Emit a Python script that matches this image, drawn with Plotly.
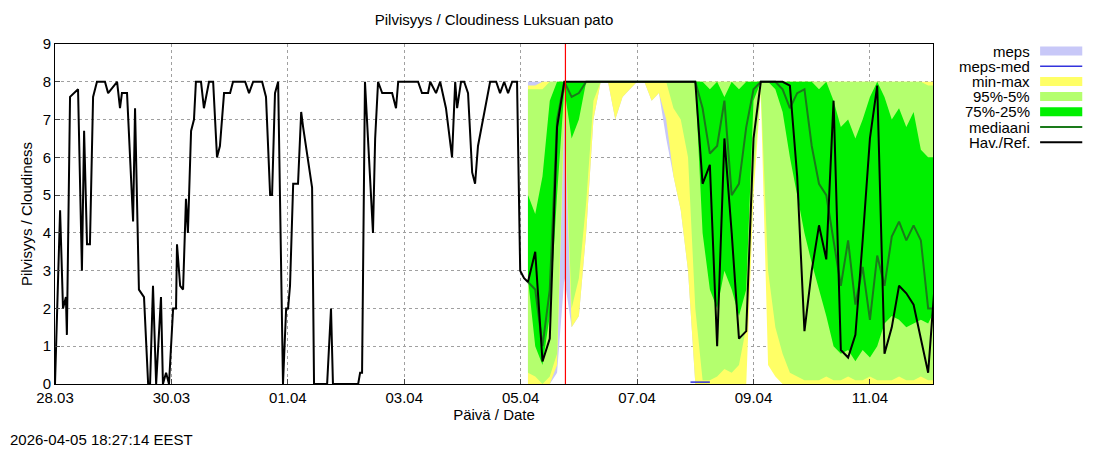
import pandas as pd
import plotly.graph_objects as go

base = pd.Timestamp("2026-03-28 00:00")

# Havainnot (tunnit alusta 28.03 00:00)
obs_hours = [0, 2.1, 3.3, 4.5, 4.9, 6.2, 9.5, 11.1, 12, 13.2, 14.4, 15.7, 17.3, 20.6, 21.9, 25.6, 26.8, 27.6,
             29.7, 32.2, 33, 34.6, 36.7, 38.4, 39.2, 40.4, 41.7, 43.7, 44.5, 45.8, 47, 48.7, 49.9, 50.3, 51.6,
             52.8, 54, 54.8, 56.1, 57.3, 58.1, 60.2, 61.4, 63.5, 65.2, 66.8, 68, 69.7, 72.2, 73.4, 78.4, 80,
             81.7, 85.4, 87, 88.7, 89.5, 90.7, 92, 94, 95.3, 96.1, 96.9, 98.2, 100.2, 101.5, 102.3, 104.3, 106,
             106.8, 112.2, 113.8, 114.6, 125, 125.8, 126.6, 127.8, 131.1, 132, 133.2, 134.9, 139, 140.6, 141.5,
             149.7, 151.3, 153.8, 154.7, 157.1, 158.8, 161.2, 163.7, 165, 165.8, 167.4, 168.7, 170.3, 172,
             173.2, 174.4, 177.3, 179.4, 181.9, 183.5, 185.2, 186.8, 188.5, 190.5, 191.8, 193.4]
obs_vals = [0, 4.6, 2, 2.3, 1.3, 7.6, 7.8, 3, 6.7, 3.7, 3.7, 7.6, 8, 8, 7.7, 8, 7.3, 7.7,
            7.7, 4.3, 7.3, 2.5, 2.3, 0, 0, 2.6, 0, 2.3, 0, 0.3, 0, 2, 2, 3.7, 2.6,
            2.5, 4.9, 4, 6.7, 7, 8, 8, 7.3, 8, 8, 6, 6.3, 7.7, 7.7, 8, 8, 7.7,
            8, 8, 7.6, 5, 5, 7.7, 8, 0, 2, 2, 2.6, 5.3, 5.3, 7.2, 6.8, 6, 5.2,
            0, 0, 2, 0, 0, 0.3, 0.3, 8, 4, 6.5, 8, 7.7, 7.7, 7.3, 8,
            8, 7.7, 7.7, 8, 7.7, 8, 7.3, 6, 8, 7.3, 8, 8, 7.7, 5.6,
            5.3, 6.3, 7.3, 8, 8, 7.7, 8, 7.7, 8, 8, 3, 2.8]

# Ennuste, 3 h välein
fc_hours = list(range(195, 364, 3))
fc_max = [7.9, 7.9] + [8] * 55
fc_min = [0, 0, 0, 0, 0.5, 7.2, 1.5, 1.8, 4.0, 7.0,
          8, 8, 7.0, 7.6, 7.8, 8, 8, 7.5, 7.7, 7.0,
          5.5, 4.6, 3.0, 0, 0, 0, 0, 0, 0, 0,
          0, 5.0, 7.7, 0.5, 0.2, 0, 0, 0, 0, 0,
          0, 0, 0, 0, 0, 0, 0, 0, 0, 0,
          0, 0, 0, 0, 0, 0, 0]
fc_p95 = [7.8, 7.8, 7.8] + [8] * 52 + [7.9, 7.9]
fc_p5 = [0.3, 0.2, 0, 0.2, 0.8, 7.5, 2.0, 2.8, 4.8, 7.5,
         8, 8, 8, 8, 8, 8, 8, 8, 8, 8,
         7.3, 7.0, 6.0, 2.0, 0.1, 0.1, 0.2, 0.4, 0.3, 0.5,
         1.5, 5.5, 7.8, 3.0, 1.5, 0.8, 0.3, 0.2, 0.1, 0.1,
         0.1, 0.2, 0.1, 0.1, 0.2, 0.1, 0.1, 0.2, 0.1, 0.1,
         0.1, 0.2, 0.1, 0.1, 0.2, 0.1, 0.1]
fc_p75 = [5.0, 4.5, 5.5, 7.5, 8, 8, 8, 8, 8, 8,
          8, 8, 8, 8, 8, 8, 8, 8, 8, 8,
          8, 8, 8, 8, 8, 7.8, 8, 7.6, 8, 7.8,
          8, 8, 8, 8, 8, 8, 8, 8, 8, 8,
          7.8, 8, 7.5, 6.8, 7.0, 6.5, 7.0, 7.6, 8, 7.6,
          7.0, 7.3, 6.8, 7.2, 6.2, 6.0, 6.0]
fc_p25 = [2.8, 1.0, 0.5, 1.8, 5.0, 7.8, 6.5, 7.0, 8, 8,
          8, 8, 8, 8, 8, 8, 8, 8, 8, 8,
          8, 8, 8, 8, 4.0, 2.5, 2.0, 3.0, 2.5, 1.8,
          2.5, 7.5, 8, 8, 7.8, 7.2, 6.0, 5.0, 4.0, 3.2,
          2.5, 1.8, 1.0, 0.8, 0.9, 0.6, 0.9, 0.7, 1.0, 1.6,
          1.8, 1.7, 1.5, 1.6, 1.7, 1.6, 2.0]
fc_med = [2.7, 2.5, 1.0, 2.5, 7.0, 8, 7.6, 7.7, 8, 8,
          8, 8, 8, 8, 8, 8, 8, 8, 8, 8,
          8, 8, 8, 8, 7.3, 6.1, 6.3, 7.5, 5.0, 5.3,
          6.8, 7.8, 8, 8, 8, 7.8, 7.3, 7.7, 7.8, 6.3,
          5.3, 5.0, 3.8, 2.6, 3.8, 2.1, 3.1, 1.7, 3.4, 2.6,
          3.9, 4.3, 3.8, 4.2, 3.8, 2.0, 2.0]
fc_ref = [2.7, 3.5, 0.6, 1.2, 6.8, 8, 8, 8, 8, 8,
          8, 8, 8, 8, 8, 8, 8, 8, 8, 8,
          8, 8, 8, 8, 5.3, 5.8, 1.0, 6.5, 4.0, 1.2,
          1.4, 6.5, 8, 8, 8, 8, 7.9, 5.5, 1.4, 3.0,
          4.2, 3.3, 7.5, 0.9, 0.7, 1.3, 3.8, 6.5, 7.9, 0.8,
          1.5, 2.6, 2.4, 2.1, 1.2, 0.3, 2.9]

# MEPS
meps_hours = list(range(195, 268, 3))
meps_min = [0, 0, 0, 0, 0.3, 2.8, 1.5, 1.8, 4.0, 7.0,
            8, 8, 7.0, 7.6, 7.8, 8, 8, 7.5, 7.7, 6.5,
            5.5, 4.6, 3.0, 0, 0]
meps_max = [8] * 25
meps_med_hours = [262, 264, 267, 270]
meps_med = [0.05, 0.05, 0.05, 0.05]

now_hour = 210.45


def tx(hours):
    return [base + pd.Timedelta(hours=h) for h in hours]


fig = go.Figure()


def band(hours, lo, hi, color):
    fig.add_trace(go.Scatter(x=tx(hours), y=lo, mode="lines", line=dict(width=0), hoverinfo="skip", showlegend=False))
    fig.add_trace(go.Scatter(x=tx(hours), y=hi, mode="lines", line=dict(width=0), fill="tonexty",
                             fillcolor=color, showlegend=False))


band(meps_hours, meps_min, meps_max, "#c8c8f8")
band(fc_hours, fc_min, fc_max, "#ffff66")
band(fc_hours, fc_p5, fc_p95, "#b4ff6e")
band(fc_hours, fc_p25, fc_p75, "#00f000")
fig.add_trace(go.Scatter(x=tx(meps_med_hours), y=meps_med, mode="lines", line=dict(color="#3333dd", width=1.5),
                         showlegend=False))
fig.add_trace(go.Scatter(x=tx(fc_hours), y=fc_med, mode="lines", line=dict(color="#1a7a1a", width=2),
                         showlegend=False))
fig.add_trace(go.Scatter(x=tx(obs_hours + fc_hours), y=obs_vals + fc_ref, mode="lines",
                         line=dict(color="#000000", width=2), showlegend=False))

fig.add_shape(type="line", x0=tx([now_hour])[0], x1=tx([now_hour])[0], y0=0, y1=9, yref="y",
              line=dict(color="#ff0000", width=1.2), opacity=1, layer="above")

# gnuplot-tyylinen selite
legend = [("meps", "#c8c8f8", 9), ("meps-med", "#3333dd", 1.5), ("min-max", "#ffff66", 9),
          ("95%-5%", "#b4ff6e", 9), ("75%-25%", "#00f000", 9), ("mediaani", "#1a7a1a", 2),
          ("Hav./Ref.", "#000000", 2)]
for i, (name, col, w) in enumerate(legend):
    yy = 1 - (7 + i * 15.2) / 340
    fig.add_annotation(x=1.113, y=yy, xref="paper", yref="paper", text=name, showarrow=False,
                       xanchor="right", yanchor="middle", font=dict(size=15))
    fig.add_shape(type="line", xref="paper", yref="paper", x0=1.122, x1=1.17, y0=yy, y1=yy,
                  line=dict(color=col, width=w), opacity=1, layer="above")

fig.add_annotation(x=-47 / 878, y=-55 / 340, xref="paper", yref="paper", text="2026-04-05 18:27:14 EEST",
                   showarrow=False, xanchor="left", yanchor="middle", font=dict(size=15))

fig.update_layout(
    width=1092, height=442, template="simple_white",
    margin=dict(l=47, r=167, t=36, b=66),
    font=dict(family="Liberation Sans, Arial, sans-serif", size=15, color="#000"),
    title=dict(text="Pilvisyys / Cloudiness Luksuan pato", x=486 / 1092, xanchor="center",
               y=1 - 12 / 442, yanchor="middle", font=dict(size=15)),
    showlegend=False, plot_bgcolor="white",
)
fig.update_xaxes(range=[base, base + pd.Timedelta(hours=362)], tickformat="%d.%m", dtick=2 * 86400000,
                 tick0=base, ticks="inside", showgrid=True, gridcolor="#a0a0a0", griddash="dot",
                 mirror=True, showline=True, linecolor="#000", automargin=False, tickfont=dict(size=15),
                 title=dict(text="Päivä / Date", standoff=4, font=dict(size=15)))
fig.update_yaxes(range=[0, 9], dtick=1, ticks="inside", showgrid=True, gridcolor="#a0a0a0", griddash="dot",
                 mirror=True, showline=True, linecolor="#000", automargin=False, tickfont=dict(size=15),
                 title=dict(text="Pilvisyys / Cloudiness", standoff=6, font=dict(size=15)))

fig.write_html("out.html")
